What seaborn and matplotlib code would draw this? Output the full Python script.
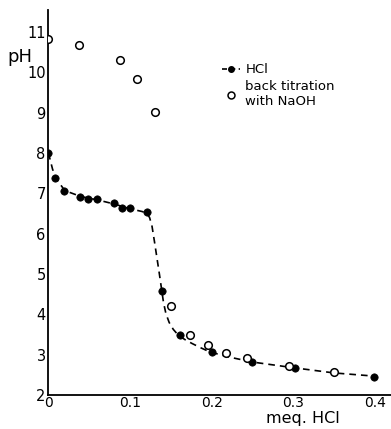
import matplotlib
matplotlib.use("Agg")
import matplotlib.pyplot as plt
import seaborn as sbn
import pandas

# HCl titration (filled dots)
hcl_meq = [0.0, 0.008, 0.019, 0.039, 0.049, 0.059, 0.080, 0.090, 0.100, 0.121,
           0.139, 0.161, 0.200, 0.250, 0.302, 0.399]
hcl_ph = [8.0, 7.38, 7.07, 6.90, 6.86, 6.85, 6.75, 6.63, 6.63, 6.53,
          4.59, 3.50, 3.06, 2.81, 2.68, 2.45]

# back titration with NaOH (open circles)
back_meq = [0.0, 0.0375, 0.088, 0.108, 0.130, 0.150, 0.173, 0.195, 0.218,
            0.244, 0.295, 0.350]
back_ph = [10.83, 10.67, 10.30, 9.84, 9.01, 4.22, 3.50, 3.24, 3.05,
           2.91, 2.72, 2.58]

# dashed curve drawn through the HCl points
curve_meq = [0.0, 0.005, 0.01, 0.02, 0.04, 0.06, 0.08, 0.10, 0.115, 0.121,
             0.124, 0.127, 0.130, 0.133, 0.136, 0.138, 0.141, 0.144, 0.148,
             0.153, 0.159, 0.167, 0.176, 0.187, 0.198, 0.22, 0.25, 0.30,
             0.35, 0.40]
curve_ph = [8.0, 7.6, 7.35, 7.07, 6.92, 6.84, 6.74, 6.62, 6.55, 6.50,
            6.40, 6.18, 5.80, 5.40, 5.00, 4.72, 4.30, 4.02, 3.80,
            3.63, 3.49, 3.38, 3.28, 3.17, 3.07, 2.95, 2.82, 2.68,
            2.55, 2.47]

hcl = pandas.DataFrame({"meq": hcl_meq, "pH": hcl_ph})
back = pandas.DataFrame({"meq": back_meq, "pH": back_ph})
curva = pandas.DataFrame({"meq": curve_meq, "pH": curve_ph})

sbn.set_style("white")
plt.rcParams["font.family"] = ["DejaVu Sans"]
plt.rcParams["text.color"] = "black"

fig = plt.figure(figsize=(3.91, 4.29), dpi=100)
ax = fig.add_axes([0.124, 0.079, 0.876, 0.898])

sbn.lineplot(data=curva, x="meq", y="pH", ax=ax, color="black",
             linewidth=1.2, linestyle=(0, (4, 3)), sort=False)
sbn.scatterplot(data=hcl, x="meq", y="pH", ax=ax, color="black",
                s=28, edgecolor="black", linewidth=0.5, zorder=3)
sbn.scatterplot(data=back, x="meq", y="pH", ax=ax, facecolor="white",
                edgecolor="black", s=30, linewidth=1.1, zorder=4)

ax.set_xlim(0, 0.42)
ax.set_ylim(2, 11.55)
ax.set_xticks([0, 0.1, 0.2, 0.3, 0.4])
ax.set_xticklabels(["0", "0.1", "0.2", "0.3", "0.4"])
ax.set_yticks(range(2, 12))
ax.tick_params(direction="in", length=4, width=1, labelsize=10.5, colors="black", pad=2)
ax.tick_params(axis="x", labelsize=10, pad=1)
for s in ["top", "right"]:
    ax.spines[s].set_visible(False)
for s in ["left", "bottom"]:
    ax.spines[s].set_color("black")
    ax.spines[s].set_linewidth(1.3)

ax.set_xlabel("")
ax.set_ylabel("")
fig.text(0.02, 0.855, "pH", fontsize=13)
fig.text(0.68, 0.013, "meq. HCl", fontsize=11.5, va="baseline")

# legend
h1, = ax.plot([], [], color="black", linestyle=(0, (3, 2)), marker="o",
              markersize=4, linewidth=1.2)
h2, = ax.plot([], [], linestyle="none", marker="o", markersize=5,
              markerfacecolor="white", markeredgecolor="black", markeredgewidth=1.1)
ax.legend([h1, h2], ["HCl", "back titration\nwith NaOH"], loc="upper left",
          bbox_to_anchor=(0.49, 0.875), frameon=False, fontsize=9.5,
          handlelength=1.4, handletextpad=0.4, labelspacing=0.3,
          borderaxespad=0, labelcolor="black")

fig.savefig("out.png", dpi=100)
